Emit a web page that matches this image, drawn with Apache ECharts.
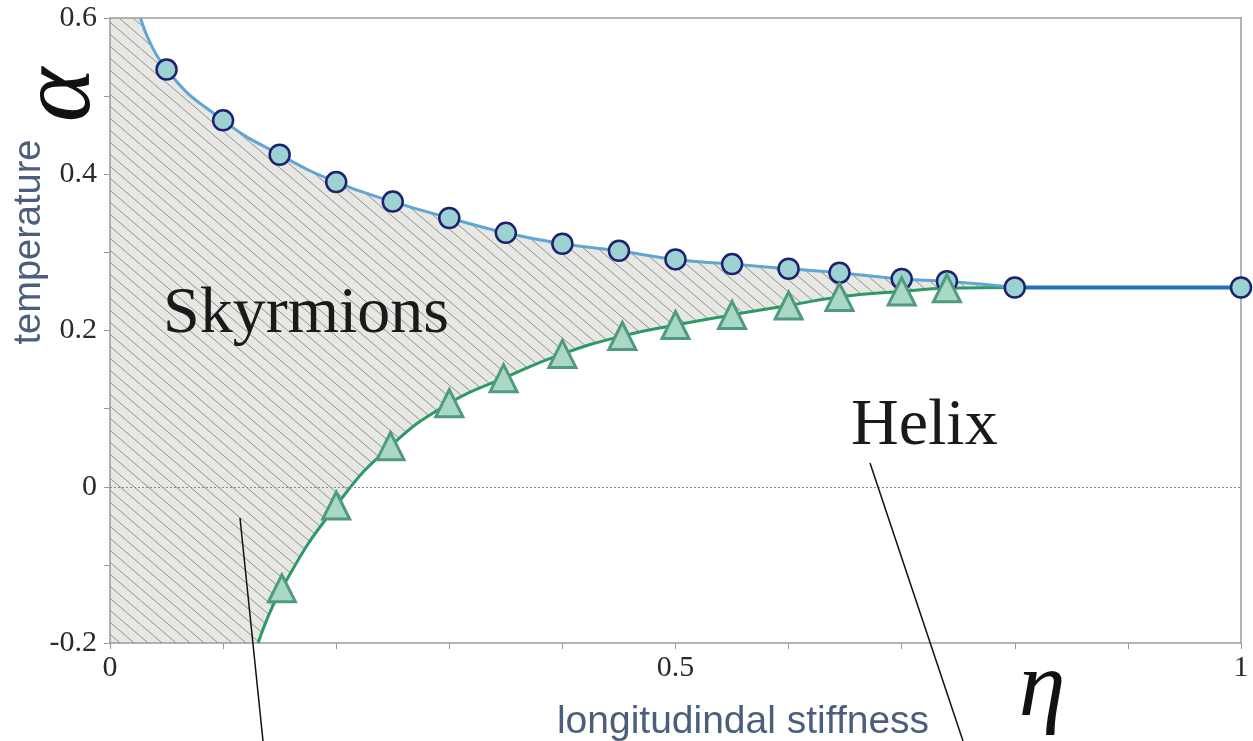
<!DOCTYPE html>
<html>
<head>
<meta charset="utf-8">
<script src="https://cdn.jsdelivr.net/npm/echarts@6/dist/echarts.min.js"></script>
<style>
html,body{margin:0;padding:0;background:#fff;}
#chart{width:1253px;height:741px;}
</style>
</head>
<body>
<div id="chart"></div>
<script>
// ---- data ----
const circleEta   = [0.05, 0.10, 0.15, 0.20, 0.25, 0.30, 0.35, 0.40, 0.45, 0.50, 0.55, 0.60, 0.645, 0.70, 0.74, 0.80, 1.00];
const circleAlpha = [0.534, 0.469, 0.425, 0.390, 0.365, 0.344, 0.325, 0.311, 0.302, 0.291, 0.285, 0.279, 0.274, 0.266, 0.263, 0.255, 0.255];
const triEta      = [0.152, 0.20, 0.248, 0.30, 0.348, 0.40, 0.453, 0.50, 0.55, 0.60, 0.645, 0.70, 0.74];
const triAlpha    = [-0.130, -0.024, 0.052, 0.107, 0.139, 0.170, 0.193, 0.207, 0.220, 0.232, 0.243, 0.250, 0.254];
const upperCurveTop    = [0.027, 0.6];   // where the upper fit leaves the top of the frame
const lowerCurveBottom = [0.131, -0.2];  // where the lower fit leaves the bottom of the frame
const mergeEta = 0.80;
const xTickLabels = ['0', '0.5', '1'];
const yTickLabels = ['-0.2', '0', '0.2', '0.4', '0.6'];
const xRange = [0, 1];
const yRange = [-0.2, 0.6];

// ---- derived ----
const circles = circleEta.map((e, i) => [e, circleAlpha[i]]);
const triangles = triEta.map((e, i) => [e, triAlpha[i]]);
const mergePoint = circles.find(p => p[0] === mergeEta);
const upperCurve = [upperCurveTop].concat(circles.filter(p => p[0] <= mergeEta));
const flatPart = circles.filter(p => p[0] >= mergeEta);
const lowerCurve = [lowerCurveBottom].concat(triangles, [mergePoint]);
const whiteArea = lowerCurve.concat(flatPart.slice(1));
const leftStrip = [[xRange[0], yRange[1]], [upperCurveTop[0], yRange[1]]];

// hatch pattern
const pc = document.createElement('canvas');
const PW = 14, PH = 12;
pc.width = PW; pc.height = PH;
const g = pc.getContext('2d');
g.fillStyle = '#e7e8e4';
g.fillRect(0, 0, PW, PH);
g.strokeStyle = '#8f918c';
g.lineWidth = 1;
[-PW, 0, PW].forEach(ox => {
  g.beginPath(); g.moveTo(ox, 0); g.lineTo(ox + PW, PH); g.stroke();
});
const hatch = { image: pc, repeat: 'repeat' };

const serif = '"Liberation Serif","DejaVu Serif",serif';
const sans = '"Liberation Sans",Arial,sans-serif';
const slate = '#4b5f7c';
const SM = 0.5;

const chart = echarts.init(document.getElementById('chart'), null, { renderer: 'canvas' });
chart.setOption({
  animation: false,
  backgroundColor: '#fff',
  grid: { left: 110, right: 12, top: 18, bottom: 98, containLabel: false },
  xAxis: [{
    type: 'value', min: xRange[0], max: xRange[1], interval: 0.1, z: 2,
    axisLine: { show: true, onZero: false, lineStyle: { color: '#9a9a9a', width: 1.5 } },
    axisTick: { show: true, inside: false, length: 6, lineStyle: { color: '#9a9a9a', width: 1 } },
    splitLine: { show: false },
    axisLabel: {
      margin: 10, fontFamily: serif, fontSize: 30, color: '#2a2a2a',
      formatter: v => { const s = String(Math.round(v * 10) / 10); return xTickLabels.includes(s) ? s : ''; }
    }
  }, {
    type: 'value', position: 'top', min: xRange[0], max: xRange[1], z: 2,
    axisLine: { show: true, onZero: false, lineStyle: { color: '#9a9a9a', width: 1.5 } },
    axisTick: { show: false }, axisLabel: { show: false }, splitLine: { show: false }
  }],
  yAxis: [{
    type: 'value', min: yRange[0], max: yRange[1], interval: 0.1, z: 2,
    axisLine: { show: true, onZero: false, lineStyle: { color: '#9a9a9a', width: 1.5 } },
    axisTick: { show: true, inside: false, length: 6, lineStyle: { color: '#9a9a9a', width: 1 } },
    splitLine: { show: false },
    axisLabel: {
      margin: 13, fontFamily: serif, fontSize: 30, color: '#2a2a2a',
      formatter: v => { const s = String(Math.round(v * 10) / 10); return yTickLabels.includes(s) ? s : ''; }
    }
  }, {
    type: 'value', position: 'right', min: yRange[0], max: yRange[1], z: 2,
    axisLine: { show: true, onZero: false, lineStyle: { color: '#9a9a9a', width: 1.5 } },
    axisTick: { show: false }, axisLabel: { show: false }, splitLine: { show: false }
  }],
  series: [
    { // hatched strip left of where the upper fit leaves the frame
      type: 'line', z: 1, data: leftStrip, symbol: 'none', silent: true,
      lineStyle: { width: 0, opacity: 0 },
      areaStyle: { color: hatch, opacity: 1, origin: 'start' }
    },
    { // hatched skyrmion region under the upper fit
      type: 'line', z: 1, data: upperCurve, smooth: SM, symbol: 'none', silent: true,
      lineStyle: { width: 0, opacity: 0 },
      areaStyle: { color: hatch, opacity: 1, origin: 'start' },
      markLine: {
        silent: true, symbol: 'none', label: { show: false },
        lineStyle: { type: [2, 2], color: '#8a8a8a', width: 1 },
        data: [{ yAxis: 0 }]
      }
    },
    { // white area under the lower fit (helix side)
      type: 'line', z: 1, data: whiteArea, smooth: SM, symbol: 'none', silent: true,
      lineStyle: { width: 0, opacity: 0 },
      areaStyle: { color: '#ffffff', opacity: 1, origin: 'start' }
    },
    { // lower fit line
      type: 'line', z: 3, data: lowerCurve, smooth: SM, symbol: 'none',
      lineStyle: { color: '#2b9a64', width: 3 }
    },
    { // upper fit line
      type: 'line', z: 3, data: upperCurve, smooth: SM, symbol: 'none',
      lineStyle: { color: '#5fa6d2', width: 3 }
    },
    { // flat part
      type: 'line', z: 3, data: flatPart, symbol: 'none',
      lineStyle: { color: '#1f73b6', width: 4 }
    },
    { // circles
      type: 'scatter', z: 4, data: circles, symbol: 'circle', symbolSize: 20,
      itemStyle: { color: '#9dd2d3', borderColor: '#1d2170', borderWidth: 2.5, opacity: 1 }
    },
    { // triangles
      type: 'scatter', z: 5, data: triangles, symbol: 'triangle', symbolSize: [27, 27],
      itemStyle: { color: '#a9d8c4', borderColor: '#4f9a80', borderWidth: 3, opacity: 1 }
    }
  ],
  graphic: [
    { type: 'text', x: 30, y: 242, rotation: Math.PI / 2, z: 10,
      style: { text: 'temperature', font: '38px ' + sans, fill: slate, align: 'center', verticalAlign: 'middle' } },
    { type: 'text', x: 62, y: 95, rotation: Math.PI / 2, z: 10,
      style: { text: 'α', font: 'italic 104px ' + serif, fill: '#111', align: 'center', verticalAlign: 'middle' } },
    { type: 'text', x: 743, y: 722, z: 10,
      style: { text: 'longitudindal stiffness', font: '39px ' + sans, fill: slate, align: 'center', verticalAlign: 'middle' } },
    { type: 'text', x: 1042, y: 690, z: 10,
      style: { text: 'η', font: 'italic 94px ' + serif, fill: '#111', align: 'center', verticalAlign: 'middle' } },
    { type: 'text', x: 163, y: 315, z: 10,
      style: { text: 'Skyrmions', font: '66px ' + serif, fill: '#1a1a1a', align: 'left', verticalAlign: 'middle' } },
    { type: 'text', x: 851, y: 427, z: 10,
      style: { text: 'Helix', font: '66px ' + serif, fill: '#1a1a1a', align: 'left', verticalAlign: 'middle' } },
    { type: 'line', z: 10, shape: { x1: 240, y1: 518, x2: 263, y2: 741 }, style: { stroke: '#111', lineWidth: 1.5 } },
    { type: 'line', z: 10, shape: { x1: 870, y1: 463, x2: 963, y2: 741 }, style: { stroke: '#111', lineWidth: 1.5 } }
  ]
});
</script>
</body>
</html>
